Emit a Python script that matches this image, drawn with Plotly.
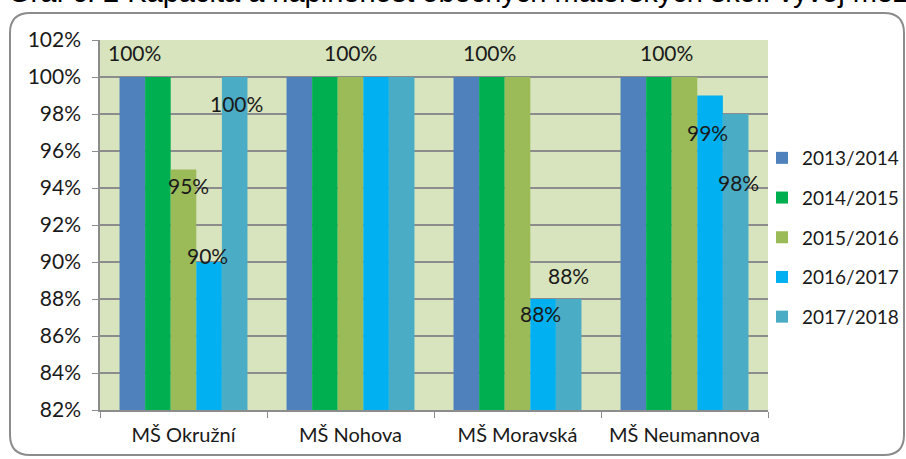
import plotly.graph_objects as go

# ---------------- data ----------------
categories = ["MŠ Okružní", "MŠ Nohova", "MŠ Moravská", "MŠ Neumannova"]
series_names = ["2013/2014", "2014/2015", "2015/2016", "2016/2017", "2017/2018"]
v_2013 = [100, 100, 100, 100]
v_2014 = [100, 100, 100, 100]
v_2015 = [95, 100, 100, 100]
v_2016 = [90, 100, 88, 99]
v_2017 = [100, 100, 88, 98]
series_values = [v_2013, v_2014, v_2015, v_2016, v_2017]
colors = ["#4F81BD", "#00B050", "#9BBB59", "#00B0F0", "#4BACC6"]

# data labels shown (category index, series index, label offset x px, offset y px)
label_cat = [0, 0, 0, 0, 1, 2, 2, 2, 3, 3, 3]
label_ser = [0, 4, 2, 3, 2, 1, 4, 3, 1, 3, 4]
label_dx = [2, 2, 5, -2, 0, -2, 0, -3, 8, -3, 3]
label_dy = [25, -26, -16, 7, 25, 25, 24, -14, 25, -37, -68]

title_text = "Graf č. 2 Kapacita a naplněnost obecných mateřských škol: vývoj mezi"

# ---------------- layout geometry ----------------
W, H = 906, 459
L, R, T, B = 100, 138, 40, 49
pw, ph = W - L - R, H - T - B
bargap = 0.234
nser = len(series_names)
bar_frac = (1 - bargap) / nser
FONT = "Lato, Carlito, sans-serif"

def px_to_paper(x, y):
    return (x - L) / pw, (H - B - y) / ph

fig = go.Figure()
for name, vals, col in zip(series_names, series_values, colors):
    fig.add_trace(go.Bar(
        name=name, x=categories, y=vals, marker=dict(color=col, line=dict(width=0)),
        legendgroup=name, hoverinfo="x+y+name",
    ))

# data labels
for c, s, dx, dy in zip(label_cat, label_ser, label_dx, label_dy):
    xv = c + (s - (nser - 1) / 2) * bar_frac
    yv = series_values[s][c]
    fig.add_annotation(x=xv, y=yv, xref="x", yref="y", text=f"{yv}%",
                       showarrow=False, xshift=dx, yshift=dy,
                       font=dict(family=FONT, size=21, color="#1a1a1a"))

# rounded border
x0, y0, x1, y1, r = 10, 13, 904, 455, 20
def P(x, y):
    a, b = px_to_paper(x, y)
    return f"{a:.5f},{b:.5f}"
path = (f"M {P(x0 + r, y0)} L {P(x1 - r, y0)} Q {P(x1, y0)} {P(x1, y0 + r)} "
        f"L {P(x1, y1 - r)} Q {P(x1, y1)} {P(x1 - r, y1)} "
        f"L {P(x0 + r, y1)} Q {P(x0, y1)} {P(x0, y1 - r)} "
        f"L {P(x0, y0 + r)} Q {P(x0, y0)} {P(x0 + r, y0)} Z")
fig.add_shape(type="path", path=path, xref="paper", yref="paper",
              line=dict(color="#8c8c8c", width=2), layer="below")

# cropped title at top (only its lower part is visible, as in the source image)
tx, ty = px_to_paper(6, -8)
fig.add_annotation(x=tx, y=ty, xref="paper", yref="paper", xanchor="left", yanchor="middle",
                   text=title_text, showarrow=False,
                   font=dict(family="Liberation Sans, Arial, sans-serif", size=29, color="#000"))

lx, ly = px_to_paper(762, 139)
fig.update_layout(
    width=W, height=H,
    margin=dict(l=L, r=R, t=T, b=B, autoexpand=False),
    paper_bgcolor="white",
    plot_bgcolor="#D7E4BD",
    barmode="group", bargap=bargap, bargroupgap=0,
    font=dict(family=FONT, size=20, color="#1a1a1a"),
    showlegend=True,
    legend=dict(x=lx, y=ly, xanchor="left", yanchor="top", tracegroupgap=12,
                font=dict(size=19), bgcolor="rgba(0,0,0,0)"),
    xaxis=dict(type="category", tickson="boundaries", ticks="outside", ticklen=6,
               tickcolor="#8c8c8c", showline=True, linecolor="#8c8c8c", linewidth=1.5,
               showgrid=False, tickfont=dict(size=20), ticklabelstandoff=6, fixedrange=True),
    yaxis=dict(range=[82, 102], dtick=2, ticksuffix="%", ticks="outside", ticklen=6,
               tickcolor="#8c8c8c", showline=True, linecolor="#8c8c8c", linewidth=1.5,
               showgrid=True, gridcolor="#8c8c8c", gridwidth=1.5, zeroline=False,
               tickfont=dict(size=21), ticklabelstandoff=7, fixedrange=True),
)

fig.write_html("out.html", config={"displayModeBar": False},
               post_script="document.body.style.margin='0';document.body.style.overflow='hidden';")
